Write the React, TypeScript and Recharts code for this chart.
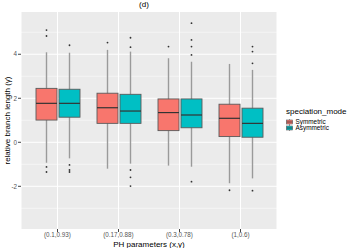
import { Bar, CartesianGrid, ComposedChart, Label, XAxis, YAxis } from "recharts";

const categories = ["(0.1,0.93)", "(0.17,0.88)", "(0.3,0.78)", "(1,0.6)"];

// Symmetric boxes: whisker ends, quartiles, median, outliers
const symLow = [-0.93, -1.2, -1.06, -1.86];
const symQ1 = [1.01, 0.86, 0.53, 0.26];
const symMedian = [1.77, 1.57, 1.35, 1.09];
const symQ3 = [2.45, 2.23, 1.97, 1.73];
const symHigh = [4.09, 4.2, 3.82, 3.56];
const symOutliers = [[5.1, 4.83, -1.12, -1.35], [4.53], [4.35], [-2.18]];

// Asymmetric boxes
const asymLow = [-0.73, -0.97, -1.11, -1.64];
const asymQ1 = [1.14, 0.86, 0.66, 0.23];
const asymMedian = [1.77, 1.42, 1.24, 0.86];
const asymQ3 = [2.41, 2.18, 1.97, 1.55];
const asymHigh = [4.07, 4.12, 3.66, 3.29];
const asymOutliers = [
  [4.41, -1.03, -1.26, -1.35],
  [4.75, 4.32, -1.26, -1.59, -1.99],
  [5.41, 4.65, 4.35, 3.97, -1.79],
  [4.35, 4.12, 3.59, -2.2],
];

const yTicks = [-2, 0, 2, 4];
const majorGrid = [-2, 0, 2, 4];
const minorGrid = [-3, -1, 1, 3, 5];

const SYM_COLOR = "#F8766D";
const ASYM_COLOR = "#00BFC4";
const FONT = "'Liberation Sans', Arial, sans-serif";

type Stats = { lo: number; q1: number; med: number; q3: number; hi: number; out: number[] };

const rows = categories.map((cat, i) => ({
  cat,
  sym: { lo: symLow[i], q1: symQ1[i], med: symMedian[i], q3: symQ3[i], hi: symHigh[i], out: symOutliers[i] },
  asym: { lo: asymLow[i], q1: asymQ1[i], med: asymMedian[i], q3: asymQ3[i], hi: asymHigh[i], out: asymOutliers[i] },
}));

function BoxShape(props: any) {
  const { x, y, width, height, payload, series, color } = props;
  const s: Stats = payload[series];
  // bar spans the whiskers, so its pixel height gives the scale
  const k = height / (s.hi - s.lo);
  const Y = (v: number) => y + (s.hi - v) * k;
  const cx = x + width / 2;
  return (
    <g>
      <line x1={cx} x2={cx} y1={Y(s.hi)} y2={Y(s.lo)} stroke="#9a9a9a" strokeWidth={1.4} />
      <rect
        x={x}
        y={Y(s.q3)}
        width={width}
        height={Y(s.q1) - Y(s.q3)}
        fill={color}
        stroke="#5a5a5a"
        strokeWidth={0.9}
      />
      <line x1={x} x2={x + width} y1={Y(s.med)} y2={Y(s.med)} stroke="#333" strokeWidth={1.2} />
      {s.out.map((v, i) => (
        <circle key={i} cx={cx} cy={Y(v)} r={0.9} fill="#333" />
      ))}
    </g>
  );
}

function LegendKey({ color }: { color: string }) {
  return (
    <svg width={7} height={6} style={{ display: "block" }}>
      <line x1={3.5} x2={3.5} y1={0} y2={6} stroke="#9a9a9a" strokeWidth={1} />
      <rect x={0.5} y={1} width={6} height={4} fill={color} stroke="#5a5a5a" strokeWidth={0.6} />
      <line x1={0.5} x2={6.5} y1={3} y2={3} stroke="#333" strokeWidth={0.8} />
    </svg>
  );
}

export default function App() {
  return (
    <div style={{ position: "absolute", left: 0, top: 0, width: 351, height: 248, background: "#fff", fontFamily: FONT }}>
      <div style={{ position: "absolute", left: 124, width: 40, top: 0, textAlign: "center", fontSize: 8, lineHeight: "10px", color: "#000" }}>
        (d)
      </div>
      <ComposedChart
        width={351}
        height={248}
        data={rows}
        margin={{ top: 12, right: 74, bottom: 0, left: 0 }}
        barSize={21}
        barGap={2}
      >
        <CartesianGrid fill="#EBEBEB" stroke="#fff" strokeWidth={0.5} horizontalValues={minorGrid} vertical={false} />
        <CartesianGrid stroke="#fff" strokeWidth={1} horizontalValues={majorGrid} />
        <XAxis
          dataKey="cat"
          height={19}
          padding={{ left: 6, right: 6 }}
          axisLine={false}
          tickSize={3}
          tickMargin={1}
          tickLine={{ stroke: "#444" }}
          tick={{ fontSize: 6.3, fill: "#555", fontFamily: FONT }}
          interval={0}
        >
          <Label value="PH parameters (x,y)" position="insideBottom" offset={1} style={{ fontSize: 8, fill: "#000", fontFamily: FONT }} />
        </XAxis>
        <YAxis
          type="number"
          width={21}
          domain={[-3.94, 5.92]}
          allowDataOverflow
          ticks={yTicks}
          axisLine={false}
          tickSize={3}
          tickMargin={1}
          tickLine={{ stroke: "#444" }}
          tick={{ fontSize: 6.3, fill: "#555", fontFamily: FONT }}
        >
          <Label
            content={({ viewBox }: any) => {
              const cx = 7;
              const cy = viewBox.y + viewBox.height / 2;
              return (
                <text
                  x={cx}
                  y={cy}
                  transform={`rotate(-90 ${cx} ${cy})`}
                  textAnchor="middle"
                  dominantBaseline="central"
                  style={{ fontSize: 8, fill: "#000", fontFamily: FONT }}
                >
                  relative branch length (γ)
                </text>
              );
            }}
          />
        </YAxis>
        <Bar
          dataKey={(d: any) => [d.sym.lo, d.sym.hi]}
          name="Symmetric"
          fill={SYM_COLOR}
          isAnimationActive={false}
          shape={(p: any) => <BoxShape {...p} series="sym" color={SYM_COLOR} />}
        />
        <Bar
          dataKey={(d: any) => [d.asym.lo, d.asym.hi]}
          name="Asymmetric"
          fill={ASYM_COLOR}
          isAnimationActive={false}
          shape={(p: any) => <BoxShape {...p} series="asym" color={ASYM_COLOR} />}
        />
      </ComposedChart>
      <div style={{ position: "absolute", left: 286, top: 107, fontSize: 8, color: "#000", lineHeight: "10px" }}>
        <div>speciation_mode</div>
        {[
          ["Symmetric", SYM_COLOR],
          ["Asymmetric", ASYM_COLOR],
        ].map(([label, color]) => (
          <div key={label} style={{ display: "flex", alignItems: "center", height: 5.5, marginTop: label === "Symmetric" ? 2 : 0.5 }}>
            <LegendKey color={color} />
            <span style={{ fontSize: 6.4, marginLeft: 2.5, lineHeight: "6px" }}>{label}</span>
          </div>
        ))}
      </div>
    </div>
  );
}
